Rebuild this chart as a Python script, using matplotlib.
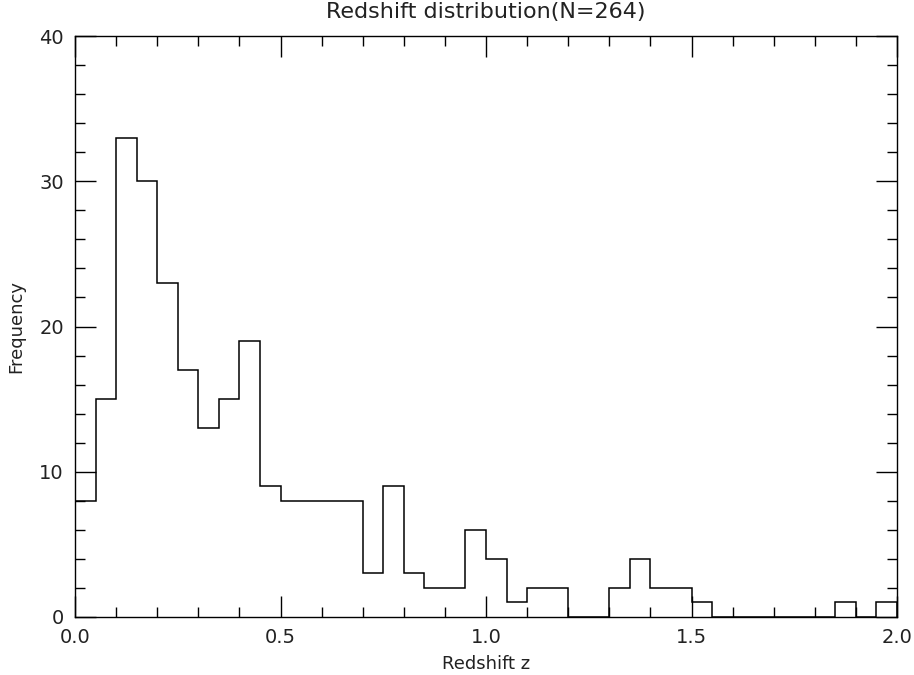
import matplotlib
matplotlib.use('Agg')
import matplotlib.pyplot as plt
import numpy as np
from matplotlib.ticker import MultipleLocator

# counts per redshift bin (bin width 0.05, from z=0 to z=2)
counts = [8, 15, 33, 30, 23, 17, 13, 15, 19, 9,
          8, 8, 8, 8, 3, 9, 3, 2, 2, 6,
          4, 1, 2, 2, 0, 0, 2, 4, 2, 2,
          1, 0, 0, 0, 0, 0, 0, 1, 0, 1]
z_min, z_max = 0.0, 2.0
n_total = 264

edges = np.linspace(z_min, z_max, len(counts) + 1)

txt = '#222222'
fig = plt.figure(figsize=(9.14, 6.75), dpi=100)
ax = fig.add_axes([75/914, 1 - 617/675, (897-75)/914, (617-36)/675])

ax.stairs(counts, edges, baseline=0, fill=False, color='black', linewidth=1.1)

ax.set_xlim(z_min, z_max)
ax.set_ylim(0, 40)
ax.xaxis.set_major_locator(MultipleLocator(0.5))
ax.xaxis.set_minor_locator(MultipleLocator(0.1))
ax.yaxis.set_major_locator(MultipleLocator(10))
ax.yaxis.set_minor_locator(MultipleLocator(2))
ax.xaxis.set_major_formatter(plt.FormatStrFormatter('%.1f'))

ax.tick_params(which='both', direction='in', top=True, right=True,
               labelsize=14, color='black', labelcolor=txt, pad=8)
ax.tick_params(which='major', length=15, width=1)
ax.tick_params(which='minor', length=7, width=1)
for s in ax.spines.values():
    s.set_linewidth(1)

ax.set_xlabel('Redshift z', fontsize=13, color=txt, labelpad=6)
ax.set_ylabel('Frequency', fontsize=13, color=txt, labelpad=10)
ax.set_title('Redshift distribution(N=%d)' % n_total, fontsize=16,
             color=txt, pad=13)

fig.savefig('out.png', dpi=100)
